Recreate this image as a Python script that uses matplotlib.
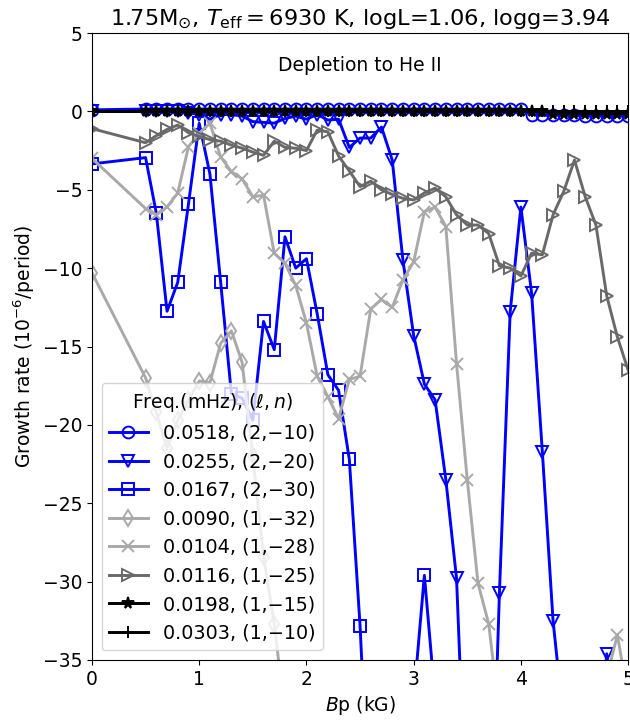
import numpy as np
import matplotlib
matplotlib.use('Agg')
import matplotlib.pyplot as plt

plt.rcParams['font.size'] = 13.5

# magnetic field grid (kG): first point at 0, then 0.5 ... 5.0
bp = [0.0, 0.5, 0.6, 0.7, 0.8, 0.9, 1.0, 1.1, 1.2, 1.3, 1.4, 1.5, 1.6, 1.7, 1.8,
      1.9, 2.0, 2.1, 2.2, 2.3, 2.4, 2.5, 2.6, 2.7, 2.8, 2.9, 3.0, 3.1, 3.2, 3.3,
      3.4, 3.5, 3.6, 3.7, 3.8, 3.9, 4.0, 4.1, 4.2, 4.3, 4.4, 4.5, 4.6, 4.7, 4.8,
      4.9, 5.0]

g_0518 = [0.1] + [0.15] * 36 + [-0.2, -0.25, -0.25, -0.25, -0.25, -0.3, -0.3, -0.3, -0.3, -0.3]
g_0255 = [0.0, 0.0, 0.0, 0.0, 0.0, -0.1, -0.2, -0.5, -0.2, -0.2, -0.3, -0.65, -0.7,
          -0.75, -0.45, -0.3, -0.5, -0.2, -0.55, -0.5, -2.3, -1.7, -1.7, -1.0, -3.1,
          -9.5, -14.3, -17.4, -18.4, -23.5, -29.8, -47, -60, -52, -30.7, -12.8, -6.1,
          -11.6, -21.7, -32.5, -39, -50, -55, -45, -34.6, -40, -45]
bp_0167 = bp[:30]
g_0167 = [-3.35, -2.95, -6.5, -12.75, -10.9, -5.9, -0.76, -4.0, -10.9, -18.0, -18.3,
          -19.7, -13.4, -15.2, -8.0, -10.0, -9.4, -12.9, -16.8, -17.8, -22.2, -32.8,
          -47, -60, -60, -55, -37.5, -29.6, -37.5, -55]
bp_0090 = bp[:16]
g_0090 = [-10.3, -17.0, -19.2, -21.5, -19.7, -18.4, -17.2, -17.3, -14.8, -14.0, -16.0,
          -22.0, -28.4, -32.7, -38.5, -50]
g_0104 = [-3.0, -6.2, -6.6, -6.1, -5.2, -2.25, -1.4, -0.76, -2.9, -3.85, -4.3, -5.45,
          -5.35, -9.05, -9.7, -11.1, -13.5, -16.9, -18.2, -19.6, -17.1, -16.9, -12.6,
          -12.0, -12.5, -10.75, -9.6, -6.4, -6.1, -7.35, -16.1, -23.5, -30.1, -32.7,
          -38.5, -45, -50, -55, -55, -55, -55, -50, -48, -42, -36.1, -33.4, -37.4]
g_0116 = [-1.1, -2.0, -1.55, -1.15, -0.87, -1.36, -1.6, -1.8, -1.9, -2.15, -2.35, -2.6,
          -2.8, -1.9, -2.3, -2.35, -2.5, -1.2, -1.3, -2.85, -3.8, -4.8, -4.45, -5.0,
          -5.3, -5.55, -5.65, -5.2, -4.9, -5.45, -6.6, -7.25, -7.25, -7.8, -9.85,
          -10.0, -10.5, -9.05, -9.15, -6.6, -5.1, -3.1, -5.45, -7.25, -11.75, -14.4,
          -16.5]
g_0198 = [0.0] + [0.0] * 38 + [-0.15] * 8
g_0303 = [0.0] * 47

labels = ['0.0518, (2,\u221210)', '0.0255, (2,\u221220)', '0.0167, (2,\u221230)',
          '0.0090, (1,\u221232)', '0.0104, (1,\u221228)', '0.0116, (1,\u221225)',
          '0.0198, (1,\u221215)', '0.0303, (1,\u221210)']

fig = plt.figure(figsize=(6.3, 7.24), dpi=100)
ax = fig.add_axes([0.146, 0.0884, 0.851, 0.866])

kw = dict(lw=2.1, ms=8.5, mew=1.4)
ax.plot(bp, g_0518, color='blue', marker='o', mfc='none', label=labels[0], **kw)
ax.plot(bp, g_0255, color='blue', marker='v', mfc='none', label=labels[1], **kw)
ax.plot(bp_0167, g_0167, color='blue', marker='s', mfc='none', label=labels[2], **kw)
ax.plot(bp_0090, g_0090, color='darkgray', marker='d', mfc='none', label=labels[3], **kw)
ax.plot(bp, g_0104, color='darkgray', marker='x', label=labels[4], **kw)
ax.plot(bp, g_0116, color='dimgray', marker='>', mfc='none', label=labels[5], **kw)
ax.plot(bp, g_0198, color='black', marker='*', label=labels[6], **kw)
ax.plot(bp, g_0303, color='black', marker='+', label=labels[7], **kw)

ax.set_xlim(0, 5)
ax.set_ylim(-35, 5)
ax.set_xticks([0, 1, 2, 3, 4, 5])
ax.set_yticks([5, 0, -5, -10, -15, -20, -25, -30, -35])
ax.set_xlabel('$B$p (kG)')
ax.set_ylabel('Growth rate ($10^{-6}$/period)')
ax.set_title(r'1.75M$_{\odot}$, $T_{\rm eff}=6930$ K, logL=1.06, logg=3.94')
ax.text(2.5, 2.9, 'Depletion to He II', ha='center', va='center')
ax.legend(loc='lower left', title=r'Freq.(mHz), $(\ell, n)$', fontsize=13.8)

fig.savefig('out.png', dpi=100)
